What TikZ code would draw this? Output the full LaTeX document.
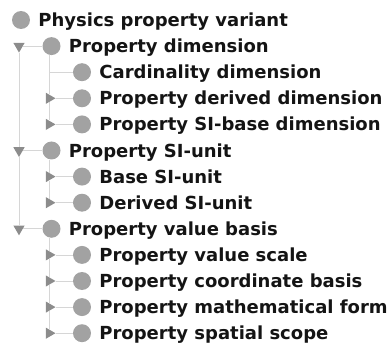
\documentclass[tikz,border=0pt]{standalone}
\usepackage{fontspec}
\setmainfont{DejaVu Sans}
\usepackage{xcolor}
\usepackage{tikz}
\usetikzlibrary{shapes.geometric,positioning}
\definecolor{bulletgray}{RGB}{162, 162, 162}
\definecolor{togglegray}{RGB}{140, 140, 140}
\definecolor{branchgray}{RGB}{214, 214, 214}
\definecolor{labelblack}{RGB}{20, 20, 20}

\tikzset{
  bullet/.style={circle, fill=bulletgray, minimum size=18pt, inner sep=0pt},
  lbl/.style={anchor=west, inner sep=0pt, text height=13.1pt, text depth=0pt, text=labelblack, font=\fontsize{18}{20}\selectfont\bfseries},
  togglebase/.style={regular polygon, regular polygon sides=3, fill=togglegray, minimum size=13pt, inner sep=0pt},
  opened/.style={togglebase, shape border rotate=180},
  closed/.style={togglebase, shape border rotate=-90},
  branch/.style={draw=branchgray, line width=0.7pt}
}

\begin{document}
\begin{tikzpicture}[x=1pt, y=-1pt, node distance=8pt]
    \useasboundingbox (0,0) rectangle (389,345);

    % root
    \node [bullet] (variant) at (21,20) {};
    \node [lbl, right=of variant] (variant-l) {Physics property variant};

    % dimensions
    \node [opened] (dim-t) at (19,46.1) {};
    \node [bullet] (dim) at (51.5,46.1) {};
    \node [lbl, right=of dim] (dim-l) {Property dimension};
    \coordinate (card-t) at (49,72.2);
    \node [bullet] (card) at (82,72.2) {};
    \node [lbl, right=of card] (card-l) {Cardinality dimension};
    \node [closed] (derdim-t) at (49,98.3) {};
    \node [bullet] (derdim) at (82,98.3) {};
    \node [lbl, right=of derdim] (derdim-l) {Property derived dimension};
    \node [closed] (sibasedim-t) at (49,124.4) {};
    \node [bullet] (sibasedim) at (82,124.4) {};
    \node [lbl, right=of sibasedim] (sibasedim-l) {Property SI-base dimension};

    % units
    \node [opened] (siunit-t) at (19,150.5) {};
    \node [bullet] (siunit) at (51.5,150.5) {};
    \node [lbl, right=of siunit] (siunit-l) {Property SI-unit};
    \node [closed] (baseunit-t) at (49,176.6) {};
    \node [bullet] (baseunit) at (82,176.6) {};
    \node [lbl, right=of baseunit] (baseunit-l) {Base SI-unit};
    \node [closed] (derunit-t) at (49,202.7) {};
    \node [bullet] (derunit) at (82,202.7) {};
    \node [lbl, right=of derunit] (derunit-l) {Derived SI-unit};

    % value basis
    \node [opened] (valbasis-t) at (19,228.8) {};
    \node [bullet] (valbasis) at (51.5,228.8) {};
    \node [lbl, right=of valbasis] (valbasis-l) {Property value basis};
    \node [closed] (valscale-t) at (49,254.9) {};
    \node [bullet] (valscale) at (82,254.9) {};
    \node [lbl, right=of valscale] (valscale-l) {Property value scale};
    \node [closed] (coordbasis-t) at (49,281.0) {};
    \node [bullet] (coordbasis) at (82,281.0) {};
    \node [lbl, right=of coordbasis] (coordbasis-l) {Property coordinate basis};
    \node [closed] (mathform-t) at (49,307.1) {};
    \node [bullet] (mathform) at (82,307.1) {};
    \node [lbl, right=of mathform] (mathform-l) {Property mathematical form};
    \node [closed] (spatscope-t) at (49,333.2) {};
    \node [bullet] (spatscope) at (82,333.2) {};
    \node [lbl, right=of spatscope] (spatscope-l) {Property spatial scope};

    % tree lines
    \draw [branch] (dim-t) -- (siunit-t);
    \draw [branch] (siunit-t) -- (valbasis-t);
    \draw [branch] (dim-t) -- (dim);
    \draw [branch] (siunit-t) -- (siunit);
    \draw [branch] (valbasis-t) -- (valbasis);

    \draw [branch] (dim.south -| card-t) -- (derdim-t);
    \draw [branch] (derdim-t) -- (sibasedim-t);
    \draw [branch] (card-t) -- (card);
    \draw [branch] (derdim-t) -- (derdim);
    \draw [branch] (sibasedim-t) -- (sibasedim);

    \draw [branch] (siunit.south -| baseunit-t) -- (baseunit-t);
    \draw [branch] (baseunit-t) -- (derunit-t);
    \draw [branch] (baseunit-t) -- (baseunit);
    \draw [branch] (derunit-t) -- (derunit);

    \draw [branch] (valbasis.south -| valscale-t) -- (valscale-t);
    \draw [branch] (valscale-t) -- (coordbasis-t);
    \draw [branch] (coordbasis-t) -- (mathform-t);
    \draw [branch] (mathform-t) -- (spatscope-t);
    \draw [branch] (valscale-t) -- (valscale);
    \draw [branch] (coordbasis-t) -- (coordbasis);
    \draw [branch] (mathform-t) -- (mathform);
    \draw [branch] (spatscope-t) -- (spatscope);
\end{tikzpicture}
\end{document}
